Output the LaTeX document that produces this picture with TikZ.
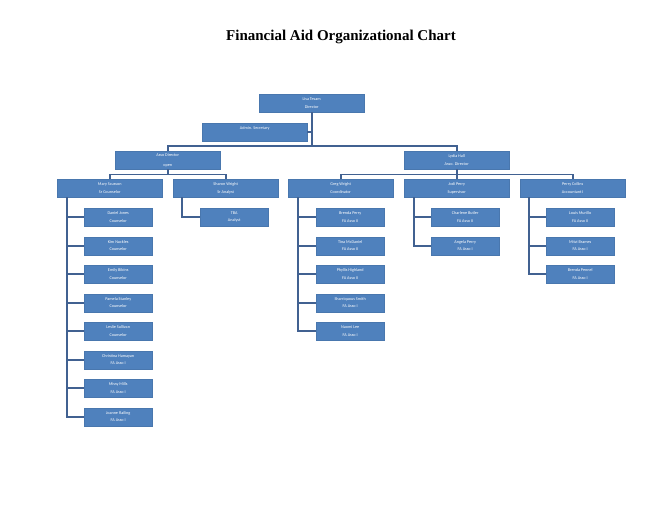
\documentclass[tikz,border=0pt]{standalone}
\usepackage{fontspec}
\setmainfont{Liberation Serif}
\newfontfamily\kastenfont{Carlito}
\usetikzlibrary{positioning,calc}
\definecolor{kastenblau}{RGB}{79,129,189}
\definecolor{linienblau}{RGB}{65,97,145}
\tikzset{
  stelle/.style={draw=kastenblau!92!black, fill=kastenblau, text=white, minimum width=105pt, minimum height=18pt, inner sep=0pt, align=center, anchor=north west, font=\kastenfont\fontsize{4.2}{7.5}\selectfont},
  kind/.style={stelle, minimum width=68pt},
  linie/.style={draw=linienblau, line width=1.8pt},
}
\begin{document}
\begin{tikzpicture}[x=1pt,y=-1pt]
\useasboundingbox (0,0) rectangle (652,504);
\node[font=\bfseries\fontsize{15}{17}\selectfont] (titel) at (341,37) {Financial Aid Organizational Chart};
%Leitung
\node[stelle] (dir) at (259,94) {Lisa Tesam\\Director};
\node[stelle] (sek) at (202,123) {Admin. Secretary\\~};
\node[stelle] (ad1) at (115,151) {Asso Director\\[3pt]open};
\node[stelle] (ad2) at (404,151) {Lydia Hall\\Asso. Director};
%dritte Ebene
\node[stelle] (mary) at (57,179) {Mary Scusson\\Sr Counselor};
\node[stelle] (sharon) at (173,179) {Sharon Wright\\Sr Analyst};
\node[stelle] (greg) at (288,179) {Greg Wright\\Coordinator};
\node[stelle] (jodi) at (404,179) {Jodi Perry\\Supervisor};
\node[stelle] (perry) at (520,179) {Perry Collins\\Accountant I};
%Verbindungen oben
\coordinate (balken) at (0,146);
\draw[linie] (dir.south) -- (dir.south |- balken);
\draw[linie] (sek.east) -- (sek.east -| dir.south);
\draw[linie] (ad1.north) |- (balken -| dir.south) -| (ad2.north);
\draw[linie] (ad1.south) -- ++(0,5) coordinate (k1);
\draw[linie] (mary.north) |- (k1) -| (sharon.north);
\draw[linie] (ad2.south) -- (jodi.north);
\draw[linie] (greg.north) |- ($(ad2.south)+(0,5)$) -| (perry.north);
%Mitarbeiter
\foreach \name/\job [count=\i] in {Daniel Jones/Counselor,Kim Nuckles/Counselor,Emily Bibins/Counselor,Pamela Stanley/Counselor,Leslie Sullivan/Counselor,Christina Hamayan/FA Asso I,Missy Mills/FA Asso I,Joanne Railing/FA Asso I}{
  \node[kind] (m\i) at (84,{208+(\i-1)*28.5}) {\name\\\job};
  \draw[linie] ($(mary.south west)+(10,0)$) |- (m\i.west);
}
\node[kind] (s1) at (200,208) {TBA\\Analyst};
\draw[linie] ($(sharon.south west)+(9,0)$) |- (s1.west);
\foreach \name/\job [count=\i] in {Brenda Perry/FA Asso II,Tina McDaniel/FA Asso II,Phyllis Highland/FA Asso II,Sharriquous Smith/FA Asso I,Naomi Lee/FA Asso I}{
  \node[kind] (g\i) at (316,{208+(\i-1)*28.5}) {\name\\\job};
  \draw[linie] ($(greg.south west)+(10,0)$) |- (g\i.west);
}
\foreach \name/\job [count=\i] in {Charlene Butler/FA Asso II,Angela Perry/FA Asso I}{
  \node[kind] (j\i) at (431,{208+(\i-1)*28.5}) {\name\\\job};
  \draw[linie] ($(jodi.south west)+(10,0)$) |- (j\i.west);
}
\foreach \name/\job [count=\i] in {Louis Murillo/FA Asso II,Mitzi Brames/FA Asso I,Brenda Pennel/FA Asso I}{
  \node[kind] (p\i) at (546,{208+(\i-1)*28.5}) {\name\\\job};
  \draw[linie] ($(perry.south west)+(9,0)$) |- (p\i.west);
}
\end{tikzpicture}
\end{document}
